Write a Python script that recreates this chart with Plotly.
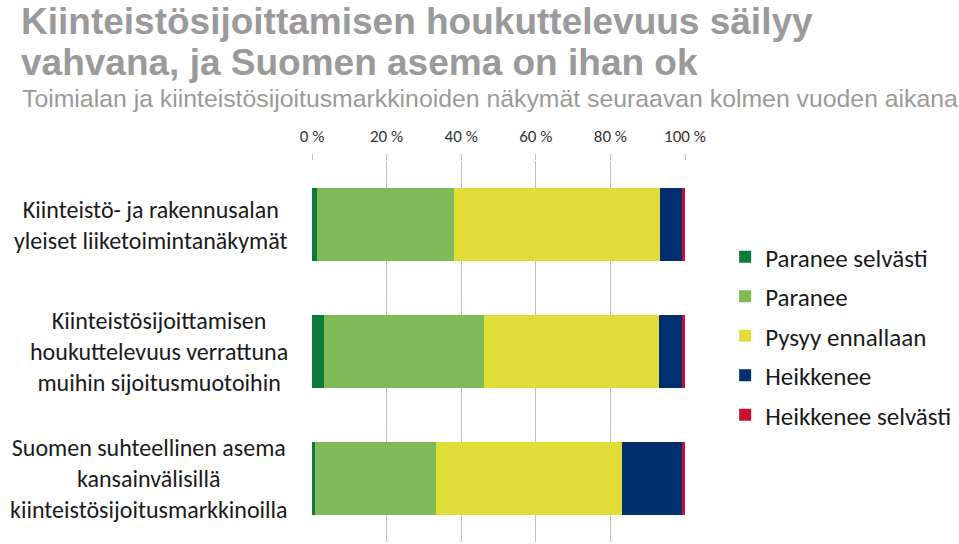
import plotly.graph_objects as go

categories = [
    "Kiinteistö- ja rakennusalan<br>yleiset liiketoimintanäkymät",
    "Kiinteistösijoittamisen<br>houkuttelevuus verrattuna<br>muihin sijoitusmuotoihin",
    "Suomen suhteellinen asema<br>kansainvälisillä<br>kiinteistösijoitusmarkkinoilla",
]
series_names = ["Paranee selvästi", "Paranee", "Pysyy ennallaan", "Heikkenee", "Heikkenee selvästi"]
paranee_selvasti = [1.3, 3.3, 0.7]
paranee = [36.9, 42.9, 32.6]
pysyy = [55.2, 46.9, 49.8]
heikkenee = [5.9, 6.1, 16.2]
heikkenee_selvasti = [0.7, 0.8, 0.7]
tick_vals = [0, 20, 40, 60, 80, 100]
tick_text = ["0 %", "20 %", "40 %", "60 %", "80 %", "100 %"]

colors = ["#0B7A3B", "#7FBA57", "#E1DD38", "#002E6E", "#C8102E"]
values = [paranee_selvasti, paranee, pysyy, heikkenee, heikkenee_selvasti]

W, H = 959, 544
L, T = 312, 161
plot_right, plot_bottom = 695.7, 542
R, B = W - plot_right, H - plot_bottom
plot_w = plot_right - L
plot_h = plot_bottom - T


def px_x(x):
    return (x - L) / plot_w


def px_y(y):
    return 1 - (y - T) / plot_h


label_font = "Calibri, Carlito, Lato, sans-serif"
title_font = "Liberation Sans, Arial, sans-serif"

fig = go.Figure()
for name, vals, col in zip(series_names, values, colors):
    fig.add_trace(go.Bar(
        y=list(range(len(categories))),
        x=vals,
        name=name,
        orientation="h",
        marker=dict(color=col, line=dict(width=0)),
        legendgroup=name,
    ))

annotations = []
for i, cat in enumerate(categories):
    annotations.append(dict(
        text=cat, x=0, xref="paper", y=i, yref="y",
        xanchor="right", yanchor="middle", xshift=-22, align="center",
        showarrow=False, font=dict(family=label_font, size=24, color="#1a1a1a"),
    ))

annotations += [
    dict(text="<b>Kiinteistösijoittamisen houkuttelevuus säilyy</b>",
         x=px_x(11), y=px_y(22), xref="paper", yref="paper",
         xanchor="left", yanchor="middle", showarrow=False,
         font=dict(family=title_font, size=37, color="#9a9a9a")),
    dict(text="<b>vahvana, ja Suomen asema on ihan ok</b>",
         x=px_x(11), y=px_y(62), xref="paper", yref="paper",
         xanchor="left", yanchor="middle", showarrow=False,
         font=dict(family=title_font, size=37, color="#9a9a9a")),
    dict(text="Toimialan ja kiinteistösijoitusmarkkinoiden näkymät seuraavan kolmen vuoden aikana",
         x=px_x(12), y=px_y(98), xref="paper", yref="paper",
         xanchor="left", yanchor="middle", showarrow=False,
         font=dict(family=title_font, size=24.8, color="#9a9a9a")),
]

fig.update_layout(
    width=W, height=H,
    margin=dict(l=L, r=R, t=T, b=B, pad=0),
    barmode="stack",
    bargap=0.428,
    plot_bgcolor="white",
    paper_bgcolor="white",
    showlegend=True,
    legend=dict(
        x=px_x(737), y=px_y(234), xanchor="left", yanchor="top",
        font=dict(family=label_font, size=25, color="#1a1a1a"),
        tracegroupgap=4, traceorder="grouped",
        itemwidth=30, bgcolor="rgba(0,0,0,0)",
    ),
    annotations=annotations,
)

fig.update_xaxes(
    side="top", range=[0, 100], tickvals=tick_vals, ticktext=tick_text,
    showgrid=True, gridcolor="#BFBFBF", gridwidth=1,
    ticks="outside", ticklen=6, tickcolor="#BFBFBF",
    ticklabelstandoff=5,
    showline=False, zeroline=False,
    tickfont=dict(family=label_font, size=17, color="#333333"),
)
fig.update_yaxes(
    range=[2.5, -0.5], showticklabels=False, showgrid=False,
    zeroline=False, showline=False,
)

fig.write_html(
    "out.html",
    config={"displayModeBar": False},
    post_script="document.body.style.margin = '0';",
)
